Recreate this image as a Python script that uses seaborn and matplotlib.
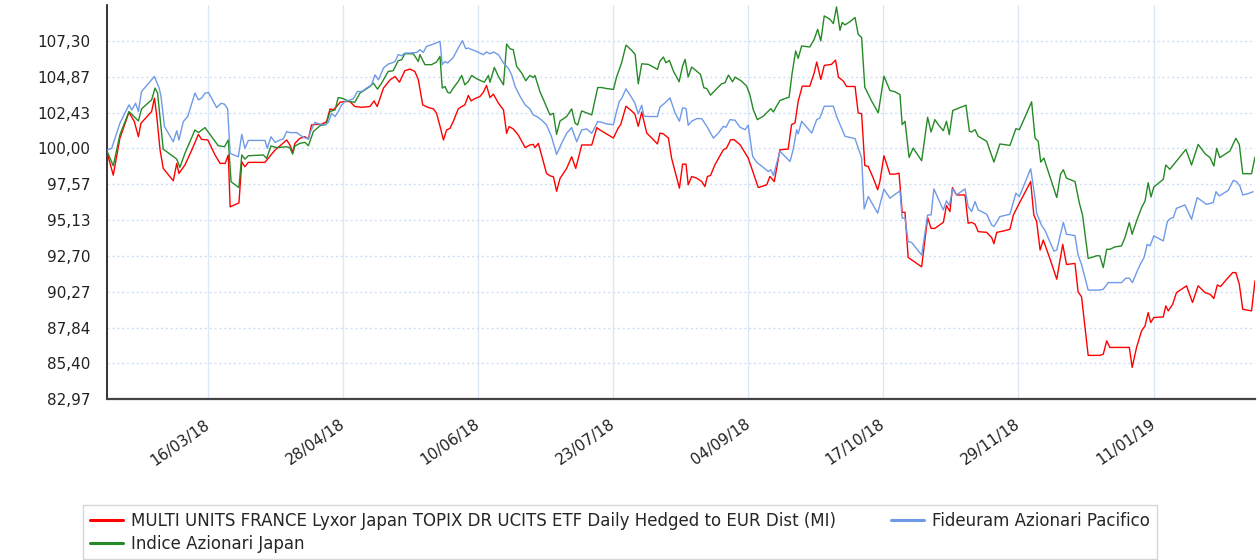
import numpy as np
import pandas as pd
import matplotlib
matplotlib.use("Agg")
import matplotlib.pyplot as plt
from matplotlib.lines import Line2D
import seaborn as sns

START = "2018-02-12"
END_OFFSET = 365.3

series_names = [
    "MULTI UNITS FRANCE Lyxor Japan TOPIX DR UCITS ETF Daily Hedged to EUR Dist (MI)",
    "Indice Azionari Japan",
    "Fideuram Azionari Pacifico",
]
series_colors = ["#ff0000", "#258a25", "#6f9ae8"]

red_days = [0.0, 1.9, 4.0, 6.9, 8.6, 9.9, 10.7, 14.1, 15.0, 15.7, 16.8, 17.8, 21.0, 22.1, 22.8, 24.7, 26.9, 29.0, 30.0, 32.0,
            34.3, 35.9, 37.5, 38.5, 39.1, 41.9, 42.8, 43.8, 44.9, 50.2, 51.8, 53.4, 55.5, 57.1, 58.1, 59.0, 59.7, 61.3, 62.9, 64.0,
            65.0, 66.6, 68.2, 69.8, 70.9, 71.9, 73.0, 74.1, 75.6, 77.2, 78.8, 81.0, 83.6, 84.9, 85.9, 87.9, 90.0, 91.6, 93.0, 94.7,
            96.3, 97.9, 99.0, 100.4, 102.2, 103.8, 104.8, 105.9, 107.0, 108.0, 109.1, 110.1, 111.7, 112.8, 113.8, 114.9, 115.8, 116.8, 118.6, 119.7,
            120.7, 121.8, 122.9, 124.5, 126.1, 127.1, 127.9, 129.2, 130.8, 133.0, 134.5, 135.6, 136.1, 137.2, 138.2, 139.8, 140.9, 142.0, 143.0, 144.1,
            146.2, 147.8, 149.1, 151.0, 154.2, 155.8, 156.8, 158.9, 161.1, 162.6, 163.4, 165.1, 166.6, 167.9, 169.0, 170.1, 171.7, 173.3, 175.1, 175.9,
            177.0, 178.6, 179.6, 181.0, 182.1, 183.1, 184.2, 184.9, 186.0, 187.6, 189.2, 190.2, 191.0, 192.0, 193.4, 196.1, 197.1, 198.4, 199.5, 201.4,
            204.0, 207.2, 209.9, 210.9, 212.3, 214.1, 216.7, 217.8, 218.9, 219.9, 221.2, 223.6, 225.0, 225.8, 227.1, 228.2, 230.5, 231.8, 232.7, 234.3,
            235.3, 238.0, 239.0, 240.1, 241.1, 242.2, 243.8, 245.2, 245.9, 247.2, 249.1, 250.7, 252.0, 253.0, 253.9, 254.9, 259.2, 261.1, 262.2, 263.4,
            266.1, 267.1, 268.2, 269.0, 270.3, 273.0, 274.0, 275.1, 276.2, 277.2, 279.9, 281.5, 282.2, 283.1, 285.2, 287.3, 288.4, 290.0, 293.9, 294.9,
            295.8, 296.9, 297.9, 300.0, 302.2, 304.1, 305.3, 308.0, 309.0, 310.1, 312.2, 315.9, 317.0, 318.1, 319.1, 325.3, 326.2, 327.6, 329.2, 330.3,
            331.3, 332.1, 333.1, 336.1, 336.9, 337.7, 339.1, 340.3, 343.5, 345.4, 347.2, 349.4, 351.0, 352.2, 353.3, 354.3, 356.3, 358.2, 359.2, 360.3,
            361.4, 364.2, 365.3]
red_vals = [99.66, 98.18, 100.68, 102.45, 101.82, 100.79, 101.70, 102.50, 103.41, 102.27, 99.89, 98.64, 97.80, 98.98, 98.30, 98.87, 99.89, 100.95, 100.61, 100.57,
            99.55, 98.98, 98.98, 99.55, 96.03, 96.30, 99.09, 98.75, 99.05, 99.05, 99.48, 99.89, 100.27, 100.57, 100.23, 99.73, 100.34, 100.68, 100.79, 100.64,
            101.59, 101.63, 101.63, 101.82, 102.68, 102.61, 102.84, 103.13, 103.18, 103.18, 102.84, 102.79, 102.84, 103.22, 102.84, 104.09, 104.65, 104.88, 104.49, 105.27,
            105.38, 105.22, 104.65, 102.95, 102.77, 102.68, 102.38, 101.50, 100.57, 101.25, 101.36, 101.82, 102.68, 102.84, 102.95, 103.59, 103.22, 103.36, 103.52, 103.81,
            104.27, 103.45, 103.68, 103.06, 102.61, 101.02, 101.48, 101.32, 100.91, 100.05, 100.23, 100.27, 100.05, 100.34, 99.55, 98.30, 98.14, 98.07, 97.09, 97.96,
            98.64, 99.43, 98.64, 100.23, 100.23, 101.41, 101.25, 100.98, 100.70, 101.38, 101.61, 102.86, 102.59, 102.34, 101.50, 102.47, 101.04, 100.70, 100.30, 101.04,
            100.98, 100.70, 99.34, 98.21, 97.30, 98.93, 98.93, 97.53, 98.09, 97.98, 97.75, 97.41, 98.09, 98.16, 98.89, 99.91, 100.02, 100.59, 100.59, 100.25,
            99.34, 97.34, 97.53, 98.09, 97.75, 99.91, 99.95, 101.61, 101.73, 103.20, 104.22, 104.22, 105.13, 105.86, 104.68, 105.63, 105.70, 105.99, 104.84, 104.56,
            104.20, 104.20, 102.41, 102.34, 98.84, 98.77, 97.98, 97.19, 97.75, 99.50, 98.25, 98.25, 98.32, 95.66, 95.66, 92.60, 91.96, 95.30, 94.57, 94.57,
            94.98, 96.12, 95.71, 97.34, 96.84, 96.84, 94.92, 94.98, 94.85, 94.35, 94.30, 93.94, 93.53, 94.30, 94.39, 94.51, 95.48, 96.16, 97.75, 95.48,
            95.03, 93.10, 93.78, 92.53, 91.12, 93.49, 92.12, 92.19, 90.26, 89.92, 85.95, 85.95, 86.03, 86.94, 86.49, 86.49, 85.13, 86.49, 87.62, 87.95,
            88.86, 88.18, 88.52, 88.56, 89.31, 88.97, 89.42, 90.21, 90.67, 89.54, 90.67, 90.21, 90.10, 89.81, 90.73, 90.62, 91.12, 91.57, 91.57, 90.78,
            89.08, 88.97, 91.01]

green_days = [0.0, 1.9, 4.0, 6.9, 9.9, 10.9, 14.1, 15.2, 16.0, 17.8, 22.1, 23.1, 24.7, 27.9, 29.0, 31.1, 33.2, 35.3, 37.3, 38.5,
              39.4, 41.9, 42.8, 43.8, 44.9, 49.7, 50.7, 52.1, 53.9, 57.1, 58.1, 59.0, 59.7, 61.3, 62.9, 64.0, 65.6, 67.7, 69.6, 70.9,
              72.5, 73.5, 74.6, 77.2, 78.8, 80.4, 82.0, 83.6, 84.7, 86.0, 87.3, 89.4, 91.0, 92.6, 93.7, 94.7, 97.4, 99.0, 99.5, 101.1,
              103.2, 104.8, 105.9, 106.6, 107.5, 108.3, 109.1, 110.1, 111.7, 112.8, 113.8, 114.9, 116.0, 117.6, 120.0, 121.3, 121.8, 123.2, 124.5, 126.1,
              127.1, 128.2, 129.2, 130.3, 131.9, 133.2, 134.5, 135.6, 136.1, 137.7, 139.3, 140.9, 142.0, 143.0, 144.1, 146.2, 147.8, 148.9, 149.7, 151.0,
              154.2, 156.1, 157.3, 158.9, 161.1, 162.1, 163.7, 165.1, 166.9, 168.0, 169.0, 170.1, 172.2, 173.8, 175.1, 175.9, 177.0, 177.8, 178.9, 180.2,
              182.0, 183.1, 183.9, 184.9, 186.0, 187.6, 188.8, 189.9, 190.8, 192.0, 193.4, 195.5, 196.6, 197.7, 199.0, 199.8, 201.9, 203.5, 204.5, 205.6,
              206.9, 208.8, 210.4, 211.2, 212.0, 213.0, 214.1, 215.7, 217.0, 218.0, 219.1, 219.9, 221.0, 223.6, 225.0, 226.1, 227.1, 228.2, 230.0, 231.1,
              232.1, 233.2, 233.9, 234.8, 236.4, 238.0, 239.0, 240.1, 241.1, 243.3, 245.4, 247.2, 249.1, 250.7, 252.3, 253.0, 253.9, 255.2, 256.5, 259.2,
              261.1, 262.2, 263.4, 264.5, 266.1, 267.1, 268.0, 269.1, 273.3, 274.4, 275.1, 276.2, 277.2, 279.9, 282.2, 284.1, 287.3, 289.2, 290.3, 291.5,
              294.2, 295.3, 296.3, 297.1, 298.1, 302.2, 303.4, 304.3, 305.3, 308.0, 309.4, 310.4, 312.2, 314.9, 315.9, 317.0, 318.1, 319.1, 320.7, 322.8,
              323.9, 325.3, 326.2, 327.6, 329.2, 330.3, 331.3, 332.2, 333.1, 336.1, 336.9, 338.2, 340.3, 343.3, 345.1, 347.2, 349.4, 351.0, 352.2, 353.1,
              354.1, 357.3, 359.2, 360.3, 361.4, 364.2, 365.3]
green_vals = [99.77, 98.82, 100.91, 102.50, 101.86, 102.68, 103.29, 104.09, 103.75, 99.95, 99.27, 98.71, 99.66, 101.25, 101.07, 101.41, 100.79, 100.18, 100.11, 100.57,
              97.73, 97.34, 99.55, 99.27, 99.50, 99.55, 99.32, 100.16, 100.05, 100.11, 100.05, 99.61, 100.16, 100.34, 100.41, 100.18, 101.14, 101.54, 101.63, 102.50,
              102.61, 103.45, 103.41, 103.18, 103.13, 103.75, 103.97, 104.20, 104.43, 104.02, 104.43, 105.22, 105.27, 105.95, 106.02, 106.42, 106.42, 105.90, 106.36, 105.68,
              105.68, 105.86, 106.25, 104.09, 104.20, 103.81, 103.75, 104.09, 104.54, 104.95, 104.31, 104.54, 104.95, 104.72, 104.49, 104.95, 104.49, 105.49, 104.88, 104.31,
              107.08, 106.76, 106.70, 105.56, 105.11, 104.59, 104.95, 104.81, 104.95, 103.86, 103.06, 102.27, 102.38, 100.95, 101.86, 102.16, 102.68, 101.70, 101.59, 102.54,
              102.27, 104.13, 104.13, 104.06, 104.00, 104.84, 105.81, 107.01, 106.65, 106.38, 104.38, 105.74, 105.70, 105.52, 105.36, 105.92, 106.20, 105.81, 105.97, 105.24,
              104.52, 105.58, 106.04, 104.84, 105.52, 105.24, 105.02, 104.11, 104.06, 103.61, 103.93, 104.38, 104.45, 104.97, 104.52, 104.84, 104.56, 104.22, 103.66, 102.63,
              101.95, 102.18, 102.52, 102.70, 102.47, 102.86, 103.25, 103.38, 103.47, 105.13, 106.61, 106.11, 106.95, 106.88, 107.40, 108.08, 107.29, 108.99, 108.76, 108.47,
              109.60, 108.01, 108.54, 108.38, 108.60, 108.88, 107.74, 107.51, 104.15, 103.20, 102.41, 104.90, 103.93, 103.84, 103.65, 101.61, 101.84, 99.39, 100.02, 99.16,
              102.11, 101.11, 101.95, 101.61, 101.20, 101.84, 100.93, 102.57, 102.93, 101.16, 101.11, 101.27, 100.82, 100.48, 99.07, 100.30, 100.20, 101.34, 101.27, 101.84,
              103.16, 100.70, 100.48, 99.07, 99.34, 96.66, 98.25, 98.55, 97.98, 97.75, 96.28, 95.48, 92.53, 92.71, 92.71, 91.91, 93.15, 93.15, 93.31, 93.38,
              93.94, 94.96, 94.17, 95.07, 95.98, 96.43, 97.67, 96.70, 97.38, 97.90, 98.87, 98.58, 99.14, 99.93, 98.87, 100.27, 99.64, 99.37, 98.80, 100.00,
              99.37, 99.82, 100.68, 100.27, 98.28, 98.28, 99.41]

blue_days = [0.0, 1.4, 4.0, 6.9, 7.8, 9.0, 9.9, 10.9, 15.0, 16.5, 17.1, 18.2, 21.0, 22.1, 22.8, 24.2, 25.6, 27.9, 29.0, 30.0,
             31.1, 32.2, 34.8, 36.2, 37.3, 38.3, 39.1, 41.7, 42.8, 43.8, 44.9, 50.2, 50.9, 52.1, 53.4, 55.0, 56.0, 57.1, 58.1, 60.3,
             61.3, 62.4, 64.0, 64.7, 66.1, 67.7, 69.3, 70.3, 71.4, 72.5, 73.5, 74.6, 75.7, 78.3, 79.6, 81.0, 82.5, 84.1, 85.2, 86.3,
             87.9, 89.4, 90.5, 91.6, 92.6, 93.7, 94.7, 96.3, 98.5, 99.5, 100.6, 101.6, 103.8, 105.9, 106.6, 107.5, 108.3, 109.1, 110.1, 111.7,
             113.0, 114.1, 114.9, 116.0, 117.6, 118.6, 119.7, 120.7, 121.8, 122.9, 124.5, 126.1, 127.6, 128.7, 129.8, 131.4, 133.0, 134.5, 135.6, 136.7,
             138.2, 139.8, 141.4, 143.0, 144.6, 146.2, 147.8, 149.4, 151.0, 152.6, 154.2, 156.1, 157.3, 158.9, 161.1, 162.1, 163.0, 163.7, 165.1, 166.6,
             167.9, 169.0, 170.1, 170.8, 172.7, 175.1, 175.9, 177.5, 179.1, 180.7, 182.1, 183.1, 184.2, 184.9, 186.0, 187.6, 189.2, 190.8, 192.9, 194.5,
             196.1, 196.9, 198.2, 199.8, 201.4, 203.0, 204.0, 205.4, 206.7, 208.8, 210.4, 211.2, 212.0, 214.1, 217.3, 218.3, 219.4, 219.9, 221.0, 224.2,
             225.8, 226.8, 228.2, 231.1, 232.1, 234.8, 238.0, 240.1, 240.9, 242.2, 245.2, 247.2, 249.1, 252.3, 253.0, 253.9, 254.9, 256.0, 259.2, 261.1,
             262.2, 263.1, 264.5, 266.1, 267.1, 268.0, 269.1, 270.3, 273.0, 274.0, 275.1, 276.2, 277.2, 279.9, 281.5, 282.2, 284.1, 287.3, 289.2, 290.3,
             293.9, 295.3, 295.8, 297.4, 298.4, 301.3, 302.2, 304.3, 305.3, 308.0, 309.0, 310.1, 312.2, 315.9, 317.0, 318.6, 322.8, 324.2, 325.3, 326.3,
             327.6, 328.9, 330.0, 331.0, 331.9, 333.1, 336.1, 337.4, 338.4, 339.3, 340.3, 343.0, 345.1, 346.9, 349.9, 352.0, 352.9, 353.9, 356.8, 358.4,
             359.4, 360.5, 361.4, 363.2, 364.7]
blue_vals = [99.89, 100.00, 101.70, 102.95, 102.61, 103.06, 102.50, 103.86, 104.88, 104.09, 103.52, 101.48, 100.45, 101.20, 100.57, 101.82, 102.16, 103.75, 103.29, 103.41,
             103.75, 103.79, 102.77, 103.06, 103.00, 102.68, 99.66, 99.43, 100.95, 100.00, 100.54, 100.54, 100.00, 100.79, 100.41, 100.57, 100.64, 101.14, 101.07, 101.07,
             100.91, 100.75, 100.64, 101.14, 101.77, 101.63, 101.59, 101.75, 102.38, 102.16, 102.50, 102.95, 103.18, 103.36, 103.86, 103.86, 104.09, 104.31, 104.99, 104.65,
             105.45, 105.72, 105.79, 105.90, 106.36, 106.29, 106.47, 106.47, 106.51, 106.70, 106.51, 106.92, 107.08, 107.26, 105.68, 105.90, 105.79, 105.95, 106.17, 106.81,
             107.31, 106.76, 106.81, 106.70, 106.58, 106.47, 106.36, 106.54, 106.42, 106.54, 106.36, 105.79, 105.45, 104.99, 104.20, 103.52, 102.95, 102.68, 102.27, 102.16,
             101.93, 101.59, 100.79, 99.59, 100.34, 101.02, 101.41, 100.45, 101.25, 101.32, 101.02, 101.82, 101.77, 101.66, 101.61, 102.52, 103.20, 103.38, 104.04, 103.54,
             103.09, 102.34, 102.93, 102.18, 102.16, 102.16, 102.79, 103.09, 103.43, 102.41, 101.84, 102.75, 102.70, 101.57, 101.84, 102.02, 102.02, 101.50, 100.70, 101.04,
             101.50, 101.43, 101.95, 101.91, 101.43, 101.27, 101.57, 99.46, 99.05, 98.71, 98.43, 98.55, 98.16, 99.80, 99.11, 99.91, 101.27, 100.98, 101.84, 101.04,
             101.95, 102.07, 102.86, 102.86, 102.18, 100.82, 100.66, 99.34, 95.89, 96.73, 95.60, 97.23, 96.62, 97.12, 95.26, 95.26, 93.67, 93.62, 92.76, 95.48,
             95.48, 97.25, 96.57, 95.82, 96.44, 96.12, 97.25, 96.84, 97.25, 96.05, 95.71, 96.39, 95.82, 95.53, 94.80, 94.69, 95.37, 95.53, 96.96, 96.73,
             98.62, 96.62, 95.60, 94.76, 94.46, 93.03, 93.10, 94.98, 94.17, 94.08, 92.76, 92.12, 90.38, 90.38, 90.44, 90.89, 90.89, 91.19, 91.19, 90.89,
             91.57, 92.18, 92.59, 93.49, 93.38, 94.06, 93.72, 95.03, 95.25, 95.30, 95.93, 96.16, 95.19, 96.66, 96.20, 96.32, 97.06, 96.77, 97.15, 97.83,
             97.74, 97.45, 96.84, 96.93, 97.06]

y_ticks = [82.97, 85.40, 87.84, 90.27, 92.70, 95.13, 97.57, 100.00, 102.43, 104.87, 107.30]
y_top = 109.73
x_ticks = ["2018-03-16", "2018-04-28", "2018-06-10", "2018-07-23",
           "2018-09-04", "2018-10-17", "2018-11-29", "2019-01-11"]

# ---------------------------------------------------------------------------
sns.set_style("white")
plt.rcParams["font.family"] = ["DejaVu Sans"]

start = pd.Timestamp(START)
frames = []
for name, days, vals in [(series_names[0], red_days, red_vals),
                         (series_names[1], green_days, green_vals),
                         (series_names[2], blue_days, blue_vals)]:
    frames.append(pd.DataFrame({
        "date": start + pd.to_timedelta(np.asarray(days), unit="D"),
        "value": vals,
        "series": name,
    }))
df = pd.concat(frames, ignore_index=True)

W, H = 1257, 560
fig = plt.figure(figsize=(W / 100, H / 100), dpi=100)
ax = fig.add_axes([107.3 / W, 1 - 399.3 / H, (1255 - 107.3) / W, (399.3 - 5) / H])

palette = dict(zip(series_names, series_colors))
sns.lineplot(data=df, x="date", y="value", hue="series", hue_order=series_names,
             palette=palette, estimator=None, sort=False, linewidth=1.0,
             legend=False, ax=ax, zorder=3)

ax.set_xlim(start, start + pd.Timedelta(days=END_OFFSET))
ax.set_ylim(y_ticks[0], y_top)

ax.set_yticks(y_ticks)
ax.set_yticklabels([f"{v:.2f}".replace(".", ",") for v in y_ticks])
xt = pd.to_datetime(x_ticks)
ax.set_xticks(xt)
ax.set_xticklabels([d.strftime("%d/%m/%y") for d in xt])

grid_col = "#dce7f7"
ax.grid(axis="x", color=grid_col, linewidth=1.0, linestyle="-", zorder=0)
ax.grid(axis="y", color="#cfdff3", linewidth=1.0, linestyle=(0, (1.5, 2.0)), zorder=0)
ax.set_axisbelow(True)

ax.tick_params(axis="x", length=13, width=1.0, color=grid_col, pad=4,
               labelsize=11, labelcolor="#222222")
ax.tick_params(axis="y", length=8, width=1.0, color=grid_col, pad=4,
               labelsize=11, labelcolor="#222222")
for lbl in ax.get_xticklabels():
    lbl.set_rotation(35)
    lbl.set_ha("right")
    lbl.set_va("center")
    lbl.set_rotation_mode("anchor")

ax.set_xlabel("")
ax.set_ylabel("")
for s in ["top", "right"]:
    ax.spines[s].set_visible(False)
ax.spines["left"].set_color("#111111")
ax.spines["left"].set_linewidth(1.2)
ax.spines["bottom"].set_color("#444444")
ax.spines["bottom"].set_linewidth(1.6)

handles = [Line2D([0], [0], color=c, lw=2.2) for c in series_colors]
leg = fig.legend(handles, series_names, ncol=2, loc="upper left",
                 bbox_to_anchor=(83 / W, 1 - 505 / H, (1157 - 83) / W, 0.0),
                 bbox_transform=fig.transFigure, mode="expand",
                 frameon=True, fancybox=False, edgecolor="#cccccc",
                 fontsize=12, handlelength=2.0, handletextpad=0.5,
                 labelspacing=0.3, borderpad=0.4, borderaxespad=0.0)
leg.get_frame().set_linewidth(1.0)

fig.savefig("out.png", dpi=100)
